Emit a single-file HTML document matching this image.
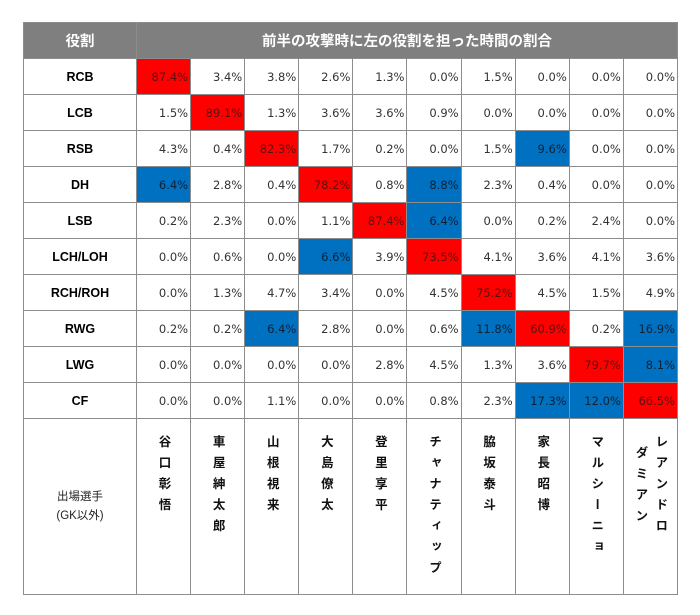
<!DOCTYPE html>
<html><head><meta charset="utf-8"><style>
html,body{margin:0;padding:0;background:#fff;width:700px;height:615px;overflow:hidden}
table{position:absolute;left:23px;top:22px;border-collapse:collapse;table-layout:fixed;width:654px;font-family:"Liberation Sans","Noto Sans CJK JP",sans-serif}
td,th{border:1px solid #8c8c8c;padding:0;font-size:12.5px;color:#222}
th{background:#7f7f7f;color:#fff;font-size:14.5px;height:35px;font-weight:bold}
td.l{text-align:center;font-weight:bold;font-size:12.5px;color:#000}
td.n{text-align:right;padding-right:2px;height:35px;font-family:"DejaVu Sans",sans-serif;font-size:11.5px;color:#333}
.r{background:#ff0000;color:#5a1010 !important}
.b{background:#0070c0;color:#0d2238 !important}
td.v{vertical-align:top;height:175px;text-align:center}
.vt{writing-mode:vertical-rl;font-weight:bold;font-size:12.5px;letter-spacing:8.5px;line-height:20px;margin:16px auto 0;display:inline-block;color:#111}
td.g{font-size:11.5px;font-weight:normal;color:#222;line-height:19px}
</style></head><body>
<table>
<colgroup><col style="width:113px"><col span="10" style="width:54.1px"></colgroup>
<tr><th>役割</th><th colspan="10">前半の攻撃時に左の役割を担った時間の割合</th></tr>
<tr><td class="l">RCB</td><td class="n r">87.4%</td><td class="n">3.4%</td><td class="n">3.8%</td><td class="n">2.6%</td><td class="n">1.3%</td><td class="n">0.0%</td><td class="n">1.5%</td><td class="n">0.0%</td><td class="n">0.0%</td><td class="n">0.0%</td></tr>
<tr><td class="l">LCB</td><td class="n">1.5%</td><td class="n r">89.1%</td><td class="n">1.3%</td><td class="n">3.6%</td><td class="n">3.6%</td><td class="n">0.9%</td><td class="n">0.0%</td><td class="n">0.0%</td><td class="n">0.0%</td><td class="n">0.0%</td></tr>
<tr><td class="l">RSB</td><td class="n">4.3%</td><td class="n">0.4%</td><td class="n r">82.3%</td><td class="n">1.7%</td><td class="n">0.2%</td><td class="n">0.0%</td><td class="n">1.5%</td><td class="n b">9.6%</td><td class="n">0.0%</td><td class="n">0.0%</td></tr>
<tr><td class="l">DH</td><td class="n b">6.4%</td><td class="n">2.8%</td><td class="n">0.4%</td><td class="n r">78.2%</td><td class="n">0.8%</td><td class="n b">8.8%</td><td class="n">2.3%</td><td class="n">0.4%</td><td class="n">0.0%</td><td class="n">0.0%</td></tr>
<tr><td class="l">LSB</td><td class="n">0.2%</td><td class="n">2.3%</td><td class="n">0.0%</td><td class="n">1.1%</td><td class="n r">87.4%</td><td class="n b">6.4%</td><td class="n">0.0%</td><td class="n">0.2%</td><td class="n">2.4%</td><td class="n">0.0%</td></tr>
<tr><td class="l">LCH/LOH</td><td class="n">0.0%</td><td class="n">0.6%</td><td class="n">0.0%</td><td class="n b">6.6%</td><td class="n">3.9%</td><td class="n r">73.5%</td><td class="n">4.1%</td><td class="n">3.6%</td><td class="n">4.1%</td><td class="n">3.6%</td></tr>
<tr><td class="l">RCH/ROH</td><td class="n">0.0%</td><td class="n">1.3%</td><td class="n">4.7%</td><td class="n">3.4%</td><td class="n">0.0%</td><td class="n">4.5%</td><td class="n r">75.2%</td><td class="n">4.5%</td><td class="n">1.5%</td><td class="n">4.9%</td></tr>
<tr><td class="l">RWG</td><td class="n">0.2%</td><td class="n">0.2%</td><td class="n b">6.4%</td><td class="n">2.8%</td><td class="n">0.0%</td><td class="n">0.6%</td><td class="n b">11.8%</td><td class="n r">60.9%</td><td class="n">0.2%</td><td class="n b">16.9%</td></tr>
<tr><td class="l">LWG</td><td class="n">0.0%</td><td class="n">0.0%</td><td class="n">0.0%</td><td class="n">0.0%</td><td class="n">2.8%</td><td class="n">4.5%</td><td class="n">1.3%</td><td class="n">3.6%</td><td class="n r">79.7%</td><td class="n b">8.1%</td></tr>
<tr><td class="l">CF</td><td class="n">0.0%</td><td class="n">0.0%</td><td class="n">1.1%</td><td class="n">0.0%</td><td class="n">0.0%</td><td class="n">0.8%</td><td class="n">2.3%</td><td class="n b">17.3%</td><td class="n b">12.0%</td><td class="n r">66.5%</td></tr>
<tr><td class="l g">出場選手<br>(GK以外)</td>
<td class="v"><span class="vt">谷口彰悟</span></td>
<td class="v"><span class="vt">車屋紳太郎</span></td>
<td class="v"><span class="vt">山根視来</span></td>
<td class="v"><span class="vt">大島僚太</span></td>
<td class="v"><span class="vt">登里享平</span></td>
<td class="v"><span class="vt">チャナティップ</span></td>
<td class="v"><span class="vt">脇坂泰斗</span></td>
<td class="v"><span class="vt">家長昭博</span></td>
<td class="v"><span class="vt">マルシーニョ</span></td>
<td class="v"><span class="vt">レアンドロ<br>ダミアン</span></td></tr>
</table>
</body></html>
